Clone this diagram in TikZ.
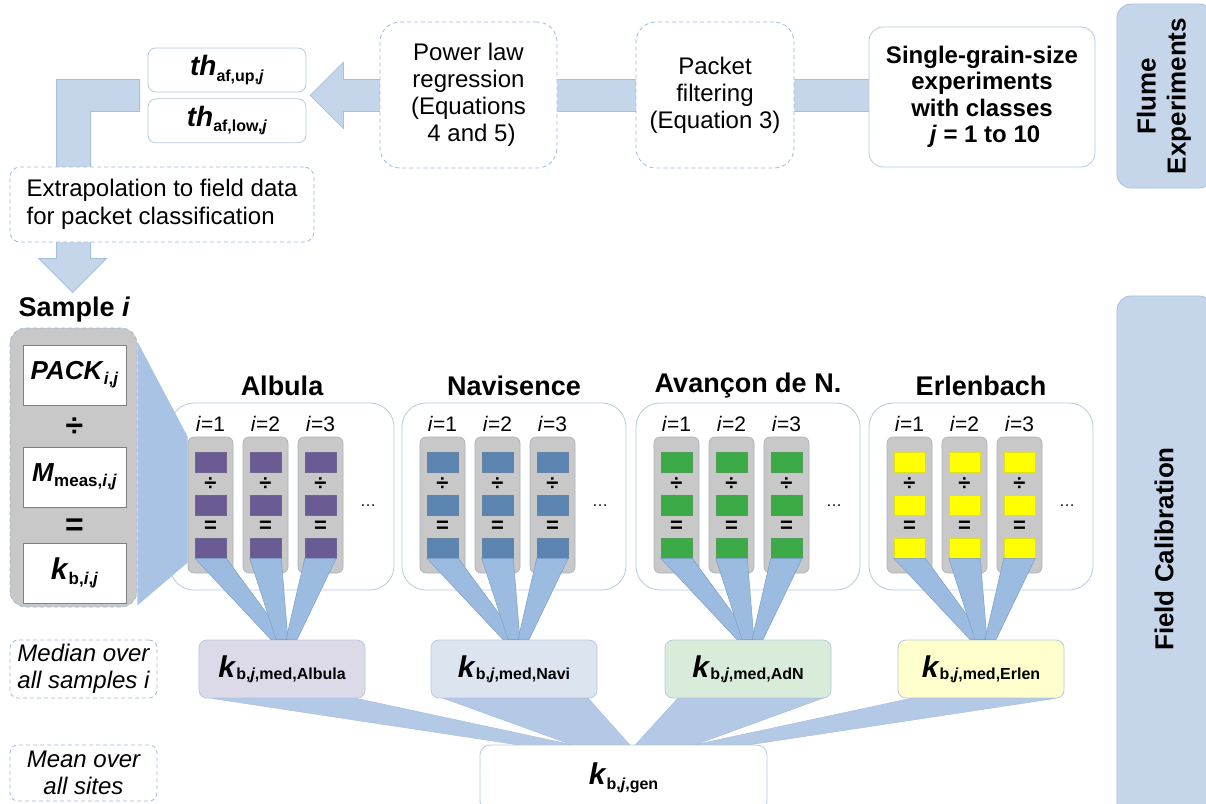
\documentclass[tikz,border=0pt]{standalone}
\usepackage{fontspec}
\setmainfont{Liberation Sans}
\usetikzlibrary{positioning,calc,backgrounds}
\definecolor{bandC}{HTML}{C6D6EA}
\definecolor{bandE}{HTML}{A8C0DE}
\definecolor{edgeC}{HTML}{B7C9DF}
\definecolor{dashC}{HTML}{9FBADB}
\definecolor{fanC}{HTML}{9CBBE0}
\definecolor{fanE}{HTML}{7B9DC9}
\definecolor{fanL}{HTML}{B3C9E5}
\definecolor{zoomC}{HTML}{A8C3E3}
\definecolor{grisB}{HTML}{C8C8C8}
\definecolor{grisE}{HTML}{A7B0BF}
\definecolor{albC}{HTML}{6B5B95}
\definecolor{navC}{HTML}{5B84B1}
\definecolor{adnC}{HTML}{3DAA48}
\definecolor{erlC}{HTML}{FFFF00}
\definecolor{albM}{HTML}{DCDAE9}
\definecolor{navM}{HTML}{DCE4EF}
\definecolor{adnM}{HTML}{D8ECD9}
\definecolor{erlM}{HTML}{FEFFCC}
\newcommand{\fsz}[2]{\fontsize{#1}{#2}\selectfont}
\newcommand{\bi}[1]{\textbf{\textit{#1}}}
\newcommand{\subtx}[2][16]{\raisebox{-0.35ex}{\fsz{#1}{#1}\bfseries #2}}
\tikzset{
  flowbox/.style={rectangle, rounded corners=14pt, draw=edgeC, line width=0.8pt, fill=white,
                  align=center, inner sep=2pt, font=\fsz{24}{27}},
  dashbox/.style={flowbox, draw=dashC, dash pattern=on 4pt off 3pt},
  sect/.style={rectangle, rounded corners=14pt, draw=bandE, line width=0.8pt, fill=bandC,
               rotate=90, inner sep=0pt},
  sectlbl/.style={rotate=90, align=center, font=\fsz{26}{30}\bfseries},
  band/.style={fill=bandC, draw=bandE, line width=0.8pt},
  fan/.style={fill=fanC, draw=fanE, line width=0.5pt},
  fanlight/.style={fill=fanL, draw=fanL!80!fanE, line width=0.5pt},
  sitebox/.style={rectangle, rounded corners=24pt, draw=edgeC, line width=0.8pt, fill=white,
                  minimum width=224pt, minimum height=187pt},
  sitelbl/.style={font=\fsz{27}{30}\bfseries},
  samplecol/.style={rectangle, rounded corners=6pt, fill=grisB, draw=grisE, line width=0.6pt,
                    minimum width=45pt, minimum height=136pt},
  sqcell/.style={rectangle, fill=#1, draw=#1!75!gray, line width=0.5pt,
                 minimum width=31pt, minimum height=20pt, inner sep=0pt},
  smallop/.style={font=\fsz{22}{22}\bfseries, inner sep=0pt},
  bigop/.style={font=\fsz{32}{32}\bfseries, inner sep=0pt},
  packbox/.style={rectangle, fill=white, draw=gray, line width=0.6pt, font=\fsz{26}{26},
                  minimum width=103pt, minimum height=60pt, inner sep=0pt},
  medbox/.style={rectangle, rounded corners=8pt, fill=#1, draw=edgeC, line width=0.8pt,
                 minimum width=166pt, minimum height=58pt, inner sep=0pt},
}
\begin{document}
\begin{tikzpicture}[x=1pt, y=-1pt, node distance=6pt]
  \useasboundingbox (0,0) rectangle (1206,803);

  % section bands on the right
  \node[sect, minimum width=184pt, minimum height=96pt] (flume) at (1165,96) {};
  \node[sectlbl] (flumelbl) at (1164,96) {Flume\\Experiments};
  \node[sect, minimum width=530pt, minimum height=96pt] (field) at (1165,561) {};
  \node[sectlbl] (fieldlbl) at (1164,549) {Field Calibration};

  % flume experiments
  \node[flowbox, minimum width=226pt, minimum height=140pt, font=\fsz{24}{26.5}\bfseries] (exp) at (982,97)
    {Single-grain-size\\experiments\\with classes\\\hspace{6pt}\textit{j} = 1 to 10};
  \node[dashbox, minimum width=158pt, minimum height=146pt, rounded corners=20pt] (filt) at (715,95)
    {Packet\\filtering\\(Equation 3)};
  \node[dashbox, minimum width=177pt, minimum height=146pt, rounded corners=20pt] (reg) at (468.5,95)
    {Power law\\regression\\(Equations\\\hspace{6pt}4 and 5)};
  \node[flowbox, minimum width=158pt, minimum height=44pt, rounded corners=8pt, font=\fsz{28}{28}] (thup) at (227,70)
    {\bi{th}\subtx{af,up,\textit{j}}};
  \node[flowbox, minimum width=158pt, minimum height=44pt, rounded corners=8pt, font=\fsz{28}{28},
        below=6pt of thup] (thlow) {\bi{th}\subtx{af,low,\textit{j}}};
  \node[dashbox, minimum width=304pt, minimum height=75pt, rounded corners=10pt, align=left,
        font=\fsz{24}{28}] (extra) at (162,204.5) {Extrapolation to field data\\for packet classification};

  % flow bands behind the boxes
  \coordinate (tip) at ($(thup.south east)!0.5!(thlow.north east)+(4,0)$);
  \coordinate (lj) at ($(thup.south west)!0.5!(thlow.north west)+(-8,0)$);
  \coordinate (down) at ($(extra.south west)+(63,50)$);
  \begin{scope}[on background layer]
    \draw[band] ($(exp.center |- tip)+(0,-16)$) -- ($(tip)+(33,-16)$) -- ++(0,-17) -- (tip)
      -- ++(33,33) -- ++(0,-17) -- ($(exp.center |- tip)+(0,16)$) -- cycle;
    \draw[band] ($(lj)+(0,-16)$) -| ($(down)+(-16,-34)$) -- ++(-18,0) -- (down) -- ++(34,-34)
      -- ++(-16,0) |- ($(lj)+(0,16)$) -- cycle;
  \end{scope}

  % sample i
  \node[sitelbl, anchor=west] (samplelbl) at (15,310) {Sample \textit{i}};
  \node[rectangle, rounded corners=16pt, fill=grisB, draw=dashC, dash pattern=on 4pt off 3pt,
        line width=0.8pt, minimum width=127pt, minimum height=279pt] (sample) at (73.5,467.5) {};
  \node[packbox] (pack) at (74.5,375) {\bi{PACK}\subtx[17]{\textit{i},\textit{j}}};
  \node[bigop] (div0) at (74.5,427) {÷};
  \node[packbox] (meas) at (74.5,477) {\bi{M}\subtx[17]{meas,\textit{i},\textit{j}}};
  \node[bigop] (eq0) at (74.5,527) {=};
  \node[packbox] (kbij) at (74.5,573) {{\fsz{30}{30}\bi{k}}\subtx[17]{b,\textit{i},\textit{j}}};

  % sites
  \foreach \s/\x/\ttl in {alb/170/Albula, nav/402/Navisence, adn/636/Avançon de N., erl/869/Erlenbach}{
    \node[sitebox] (\s) at ({\x+112},496.5) {};
    \node[sitelbl] (\s-title) at ({\x+112},386) {\ttl};
  }

  % zoom from sample i onto the first Albula sample
  \fill[zoomC] ($(sample.north east)+(0,14)$) -- ($(alb.north west)+(18,34)$)
    -- ($(alb.north west)+(18,160)$) -- ($(sample.south east)+(0,-2)$) -- cycle;

  \foreach \s/\x/\cc in {alb/170/albC, nav/402/navC, adn/636/adnC, erl/869/erlC}{
    \foreach \k in {1,2,3}{
      \node[samplecol] (\s-col\k) at ({\x+40.5+(\k-1)*55},505) {};
      \node[font=\fsz{21}{21}] (\s-i\k) at ({\x+40.5+(\k-1)*55},424) {\textit{i}=\k};
      \node[sqcell=\cc] (\s-c\k-1) at ({\x+40.5+(\k-1)*55},462.5) {};
      \node[smallop] (\s-d\k) at ({\x+40.5+(\k-1)*55},484) {÷};
      \node[sqcell=\cc] (\s-c\k-2) at ({\x+40.5+(\k-1)*55},505) {};
      \node[smallop] (\s-e\k) at ({\x+40.5+(\k-1)*55},527) {=};
      \node[sqcell=\cc] (\s-c\k-3) at ({\x+40.5+(\k-1)*55},548) {};
    }
    \node[font=\fsz{16}{16}] (\s-dots) at ({\x+198},506) {\dots};
  }

  % medians per site
  \foreach \s/\x/\mf/\short in {alb/170/albM/Albula, nav/402/navM/Navi, adn/636/adnM/AdN, erl/869/erlM/Erlen}{
    \node[medbox=\mf] (\s-med) at ({\x+112},669) {{\fsz{30}{30}\bi{k}}\subtx{b,\textit{j},med,\short}};
    \foreach \k/\a/\b in {1/-11/4, 2/-6/6, 3/4/15}
      \draw[fan] (\s-c\k-3.south west) -- (\s-c\k-3.south east) -- ($(\s-med.north)+(\b,0)$)
        -- ($(\s-med.north)+(\a,0)$) -- cycle;
  }

  % general value
  \node[flowbox, minimum width=287pt, minimum height=66pt, rounded corners=10pt] (gen) at (623.5,778)
    {{\fsz{30}{30}\bi{k}}\subtx{b,\textit{j},gen}};
  \foreach \s/\a/\b in {alb/-107/-52, nav/-52/6, adn/12/72, erl/72/127}
    \draw[fanlight] ($(\s-med.south west)+(13,0)$) -- ($(\s-med.south east)+(-9,0)$)
      -- ($(gen.north)+(\b,0)$) -- ($(gen.north)+(\a,0)$) -- cycle;

  % left labels
  \node[dashbox, font=\fsz{24}{27}\itshape, minimum width=147pt, minimum height=58pt, rounded corners=8pt]
    (medlbl) at (83.5,669) {Median over\\all samples i};
  \node[dashbox, font=\fsz{24}{27}\itshape, minimum width=147pt, minimum height=56pt, rounded corners=8pt]
    (meanlbl) at (83.5,773) {Mean over\\all sites};
\end{tikzpicture}
\end{document}
